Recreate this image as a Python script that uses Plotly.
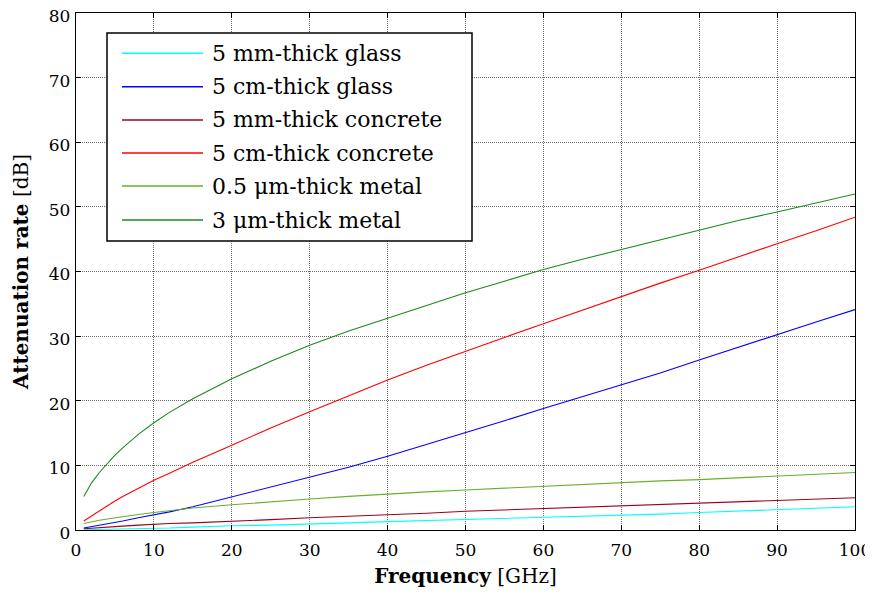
import plotly.graph_objects as go

# ---- data ----
freq_ghz = [1, 2, 3, 4, 5, 6, 8, 10, 12, 15, 20, 25, 30, 35, 40, 45, 50,
            55, 60, 65, 70, 75, 80, 85, 90, 95, 100]

glass_5mm = [0.05, 0.07, 0.1, 0.12, 0.15, 0.17, 0.2, 0.26, 0.3, 0.45, 0.66, 0.75,
             0.88, 1.1, 1.3, 1.45, 1.65, 1.8, 1.96, 2.1, 2.2, 2.45, 2.7, 2.9,
             3.1, 3.3, 3.6]
glass_5cm = [0.3, 0.5, 0.8, 1.0, 1.2, 1.4, 1.9, 2.3, 2.8, 3.6, 5.1, 6.6, 8.1,
             9.7, 11.4, 13.2, 15.0, 16.9, 18.8, 20.6, 22.4, 24.3, 26.3, 28.3,
             30.3, 32.2, 34.1]
concrete_5mm = [0.2, 0.3, 0.35, 0.45, 0.5, 0.6, 0.75, 0.9, 1.0, 1.1, 1.3, 1.6,
                1.9, 2.1, 2.4, 2.6, 2.9, 3.1, 3.35, 3.5, 3.7, 3.9, 4.1, 4.3,
                4.5, 4.7, 5.0]
concrete_5cm = [1.4, 2.2, 3.0, 3.8, 4.5, 5.2, 6.5, 7.7, 8.8, 10.5, 13.1, 15.8,
                18.3, 20.8, 23.2, 25.5, 27.7, 29.8, 31.9, 34.0, 36.2, 38.2,
                40.2, 42.3, 44.3, 46.3, 48.4]
metal_05um = [1.0, 1.3, 1.5, 1.7, 1.9, 2.1, 2.4, 2.7, 3.0, 3.4, 3.9, 4.4, 4.8,
              5.2, 5.6, 5.9, 6.2, 6.5, 6.7, 7.0, 7.3, 7.6, 7.8, 8.1, 8.3, 8.6,
              8.9]
metal_3um = [5.2, 7.3, 8.9, 10.3, 11.6, 12.7, 14.8, 16.6, 18.2, 20.3, 23.4,
             26.1, 28.6, 30.8, 32.8, 34.8, 36.7, 38.5, 40.3, 41.9, 43.4, 44.9,
             46.4, 47.9, 49.2, 50.6, 52.0]

series_names = ["5 mm-thick glass", "5 cm-thick glass", "5 mm-thick concrete",
                "5 cm-thick concrete", "0.5 μm-thick metal", "3 μm-thick metal"]
series_values = [glass_5mm, glass_5cm, concrete_5mm, concrete_5cm,
                 metal_05um, metal_3um]
series_colors = ["#00ffff", "#0000ff", "#a0001e", "#ff0000", "#66b02a", "#1a8a1a"]

x_ticks = [0, 10, 20, 30, 40, 50, 60, 70, 80, 90, 100]
y_ticks = [0, 10, 20, 30, 40, 50, 60, 70, 80]

# ---- layout geometry (screen pixels; page body adds an 8px offset) ----
OFF = 8
W, H = 873 - OFF, 592 - OFF
PLOT_L, PLOT_R, PLOT_T, PLOT_B = 76, 855, 13, 530   # screen coords
L = PLOT_L - OFF
T = PLOT_T - OFF
R = W - (PLOT_R - OFF)
B = H - (PLOT_B - OFF)
PW, PH = PLOT_R - PLOT_L, PLOT_B - PLOT_T


def px(x):
    return (x - PLOT_L) / PW


def py(y):
    return (PLOT_B - y) / PH


FONT = "DejaVu Serif"

fig = go.Figure()
for name, vals, col in zip(series_names, series_values, series_colors):
    fig.add_trace(go.Scatter(x=freq_ghz, y=vals, mode="lines", name=name,
                             line=dict(color=col, width=1.1), showlegend=False))

axis_common = dict(showline=True, linecolor="black", linewidth=1.3, mirror="ticks",
                   ticks="inside", ticklen=5, tickcolor="black", tickwidth=1.3,
                   showgrid=True, gridcolor="#6e6e6e", griddash="1px,1px", gridwidth=1,
                   zeroline=False, automargin=False, ticklabeloverflow="allow",
                   tickfont=dict(family=FONT, size=17, color="black"))

fig.update_xaxes(range=[0, 100], tickvals=x_ticks, ticktext=[str(t) for t in x_ticks],
                 ticklabelstandoff=4,
                 title=dict(text="<b>Frequency</b> [GHz]",
                            font=dict(family=FONT, size=20, color="black"), standoff=10),
                 **axis_common)
fig.update_yaxes(range=[0, 80], tickvals=y_ticks, ticktext=[str(t) for t in y_ticks],
                 ticklabelstandoff=1, ticklabelshift=3,
                 title=dict(text="<b>Attenuation rate</b> [dB]",
                            font=dict(family=FONT, size=20, color="black"), standoff=14),
                 **axis_common)

# ---- manual legend box ----
shapes = [dict(type="rect", xref="paper", yref="paper",
               x0=px(107), x1=px(472), y0=py(241), y1=py(33),
               line=dict(color="black", width=1.5), fillcolor="white", layer="above")]
annotations = []
row_y = [53.3, 86.7, 120, 153, 186, 220]
for name, col, ry in zip(series_names, series_colors, row_y):
    shapes.append(dict(type="line", xref="paper", yref="paper",
                       x0=px(122), x1=px(203), y0=py(ry), y1=py(ry),
                       line=dict(color=col, width=1.5), layer="above"))
    annotations.append(dict(xref="paper", yref="paper", x=px(210), y=py(ry),
                            xanchor="left", yanchor="middle", showarrow=False,
                            text=name, font=dict(family=FONT, size=22, color="black")))

fig.update_layout(width=W, height=H, margin=dict(l=L, r=R, t=T, b=B, autoexpand=False),
                  paper_bgcolor="white", plot_bgcolor="white",
                  shapes=shapes, annotations=annotations, showlegend=False)

fig.write_html("out.html")
